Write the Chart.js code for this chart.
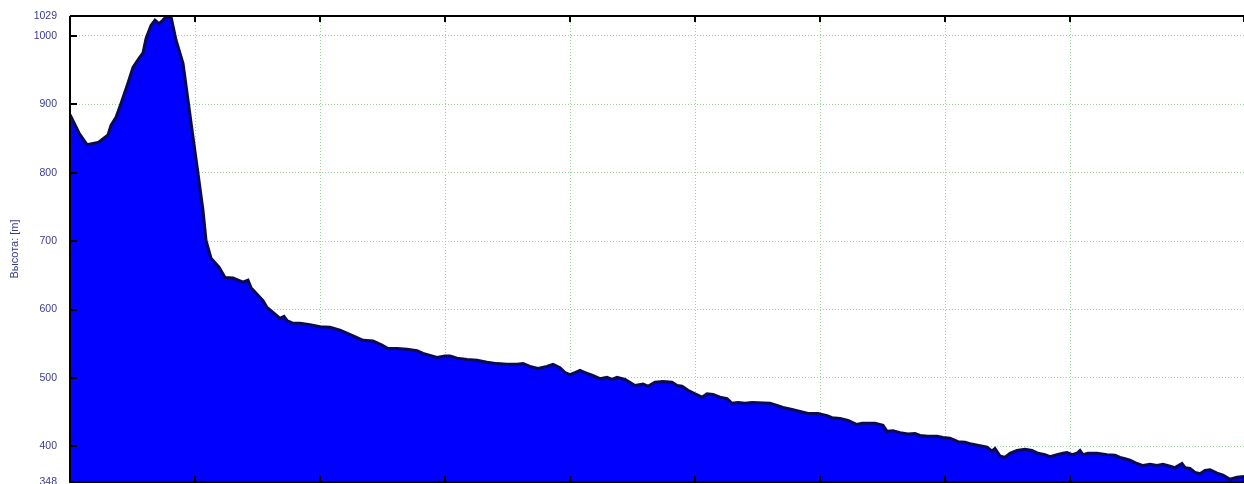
<!DOCTYPE html>
<html>
<head>
<meta charset="utf-8">
<script src="https://cdn.jsdelivr.net/npm/chart.js@4"></script>
<style>
  html, body { margin: 0; padding: 0; background: #FFFFFF; }
  #wrap { width: 1244px; height: 484px; position: relative; }
</style>
</head>
<body>
<div id="wrap"><canvas id="profileChart"></canvas></div>
<script>
// Elevation profile: distance (km) and height (m)
const distances = [
    0, 0.072, 0.136, 0.224, 0.304, 0.328, 0.368, 0.408, 0.464, 0.504,
    0.552, 0.584, 0.608, 0.648, 0.680, 0.712, 0.744, 0.768, 0.808, 0.848,
    0.904, 0.944, 0.984, 1.024, 1.064, 1.088, 1.128, 1.192, 1.240, 1.304,
    1.384, 1.424, 1.448, 1.544, 1.576, 1.624, 1.680, 1.712, 1.736, 1.784,
    1.840, 1.920, 2.000, 2.080, 2.160, 2.224, 2.296, 2.344, 2.424, 2.496,
    2.544, 2.616, 2.696, 2.776, 2.824, 2.880, 2.936, 3.000, 3.040, 3.096,
    3.176, 3.256, 3.336, 3.416, 3.496, 3.576, 3.624, 3.680, 3.744, 3.816,
    3.864, 3.920, 3.960, 4.000, 4.040, 4.080, 4.120, 4.176, 4.240, 4.296,
    4.336, 4.376, 4.440, 4.520, 4.584, 4.624, 4.680, 4.744, 4.816, 4.856,
    4.896, 4.944, 5.000, 5.056, 5.096, 5.144, 5.200, 5.256, 5.296, 5.344,
    5.400, 5.456, 5.600, 5.656, 5.704, 5.776, 5.840, 5.904, 5.984, 6.056,
    6.096, 6.160, 6.224, 6.296, 6.336, 6.440, 6.504, 6.536, 6.584, 6.640,
    6.704, 6.760, 6.800, 6.864, 6.936, 6.984, 7.040, 7.104, 7.160, 7.200,
    7.280, 7.336, 7.376, 7.400, 7.440, 7.480, 7.520, 7.576, 7.640, 7.696,
    7.744, 7.800, 7.840, 7.896, 7.944, 7.976, 8.016, 8.056, 8.080, 8.104,
    8.144, 8.216, 8.296, 8.360, 8.400, 8.440, 8.480, 8.536, 8.584, 8.640,
    8.696, 8.744, 8.800, 8.840, 8.896, 8.920, 8.960, 9.000, 9.040, 9.080,
    9.120, 9.176, 9.224, 9.280, 9.336, 9.392
];
const heights = [
    885, 858, 841, 844, 855, 869, 881, 901, 931, 954,
    967, 975, 996, 1015, 1023, 1018, 1023, 1028, 1028, 994,
    960, 906, 852, 799, 745, 701, 675, 662, 647, 646,
    640, 643, 632, 613, 603, 596, 587, 590, 584, 580,
    580, 578, 575, 574, 570, 565, 559, 555, 554, 548,
    543, 543, 542, 540, 536, 533, 530, 532, 532, 529,
    527, 526, 523, 521, 520, 520, 521, 517, 514, 517,
    520, 515, 508, 505, 508, 511, 508, 504, 499, 501,
    498, 501, 498, 489, 491, 488, 494, 495, 494, 489,
    488, 482, 477, 472, 477, 476, 472, 470, 463, 464,
    463, 464, 463, 460, 457, 454, 451, 448, 448, 445,
    442, 441, 438, 432, 434, 434, 431, 422, 423, 420,
    418, 419, 416, 415, 415, 413, 412, 407, 406, 404,
    401, 399, 393, 397, 386, 384, 390, 394, 396, 394,
    390, 388, 385, 388, 390, 391, 388, 390, 394, 388,
    390, 390, 388, 387, 384, 382, 380, 375, 372, 374,
    372, 374, 371, 369, 375, 369, 368, 362, 360, 365,
    366, 361, 358, 352, 355, 356
];
const yTicks = [348, 400, 500, 600, 700, 800, 900, 1000, 1029];
const Y_MIN = 348;
const Y_MAX = 1029;
const X_MAX = 9.392;

const LABEL_COLOR = '#3b3b8f';
const GRID_COLOR = '#9fd49f';

// frame + inward tick marks, drawn over the fill
const framePlugin = {
    id: 'frame',
    afterDraw(chart) {
        const ctx = chart.ctx;
        const area = chart.chartArea;
        const xs = chart.scales.x;
        const ys = chart.scales.y;
        ctx.save();
        ctx.strokeStyle = '#000000';
        ctx.lineWidth = 2;
        ctx.beginPath();
        ctx.moveTo(area.left, area.top);
        ctx.lineTo(area.right, area.top);
        ctx.moveTo(area.left, area.top);
        ctx.lineTo(area.left, area.bottom);
        ctx.lineTo(area.right, area.bottom);
        ys.ticks.forEach(t => {
            if (t.value === Y_MIN || t.value === Y_MAX) return;
            const y = Math.round(ys.getPixelForValue(t.value));
            ctx.moveTo(area.left, y);
            ctx.lineTo(area.left + 7, y);
        });
        xs.ticks.forEach(t => {
            if (t.value === 0) return;
            const x = Math.round(xs.getPixelForValue(t.value));
            ctx.moveTo(x, area.top);
            ctx.lineTo(x, area.top + 6);
            ctx.moveTo(x, area.bottom);
            ctx.lineTo(x, area.bottom - 6);
        });
        ctx.stroke();
        ctx.restore();
    }
};

const ctx = document.getElementById('profileChart').getContext('2d');
new Chart(ctx, {
    type: 'line',
    data: {
        datasets: [{
            label: 'Высота',
            data: distances.map((d, i) => ({ x: d, y: heights[i] })),
            borderColor: '#0a0a55',
            borderWidth: 3,
            backgroundColor: '#0000FF',
            fill: 'start',
            pointRadius: 0,
            tension: 0
        }]
    },
    options: {
        responsive: true,
        maintainAspectRatio: false,
        animation: false,
        layout: { padding: { top: 16, right: 0, bottom: 2, left: 0 } },
        plugins: {
            legend: { display: false },
            tooltip: { enabled: false }
        },
        scales: {
            x: {
                type: 'linear',
                min: 0,
                max: X_MAX,
                ticks: { display: false, stepSize: 1 },
                grid: { color: GRID_COLOR, drawTicks: false, lineWidth: 1 },
                border: { display: false, dash: [1, 2] },
                afterFit: scale => {
                    scale.height = 0;
                    scale.paddingLeft = 0;
                    scale.paddingRight = 0;
                }
            },
            y: {
                min: Y_MIN,
                max: Y_MAX,
                afterBuildTicks: scale => {
                    scale.ticks = yTicks.map(v => ({ value: v }));
                },
                afterFit: scale => {
                    scale.width = 70;
                    // let the end labels hang over the frame like the original
                    scale.paddingTop = 0;
                    scale.paddingBottom = 0;
                },
                ticks: {
                    color: LABEL_COLOR,
                    font: { family: 'Liberation Sans', size: 10.5 },
                    padding: 0,
                    callback: v => String(v)
                },
                grid: {
                    drawTicks: true,
                    tickLength: 13,
                    tickColor: 'rgba(0,0,0,0)',
                    lineWidth: 1,
                    color: c => (c.tick && (c.tick.value === Y_MIN || c.tick.value === Y_MAX)) ? 'rgba(0,0,0,0)' : GRID_COLOR
                },
                border: { display: false, dash: [1, 2] },
                title: {
                    display: true,
                    text: 'Высота: [m]',
                    color: LABEL_COLOR,
                    font: { family: 'Liberation Sans', size: 11 },
                    padding: { top: 8, bottom: 0 }
                }
            }
        }
    },
    plugins: [framePlugin]
});
</script>
</body>
</html>
